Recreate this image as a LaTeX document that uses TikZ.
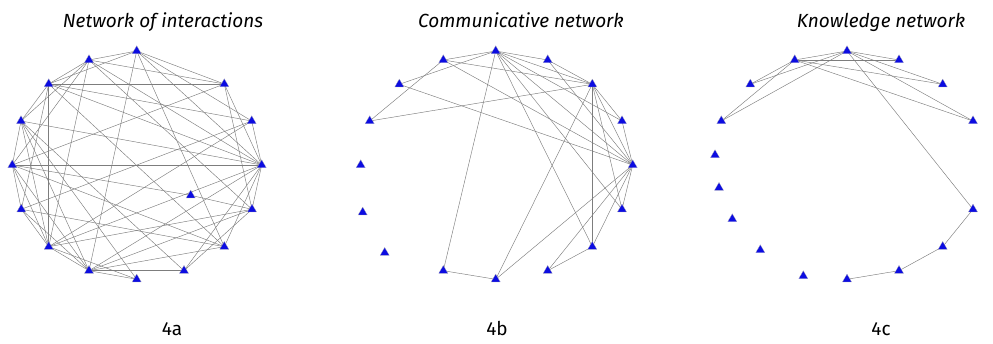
\documentclass[tikz,border=0pt]{standalone}
\usepackage{fontspec}
\setmainfont{Fira Sans}
\usetikzlibrary{shapes.geometric}
\pgfdeclarelayer{bg}
\pgfsetlayers{bg,main}
\definecolor{triblue}{RGB}{12,12,225}
\definecolor{edgegray}{RGB}{125,125,125}
\tikzset{
  tri/.style={regular polygon, regular polygon sides=3, minimum size=10.5pt, inner sep=0pt, fill=triblue, draw=gray!60, line width=0.2pt},
  link/.style={draw=edgegray, line width=0.45pt},
  ttl/.style={font=\fontsize{19}{21}\selectfont\itshape, anchor=base, inner sep=0pt},
  sublabel/.style={font=\fontsize{19}{21}\selectfont, anchor=base, inner sep=0pt}
}
\begin{document}
\begin{tikzpicture}[x=1pt,y=-1pt]
\useasboundingbox (0,0) rectangle (993,344);
% titles and labels
\node[ttl] (t1) at (163,28) {Network of interactions};
\node[ttl] (t2) at (521,28) {Communicative network};
\node[ttl] (t3) at (881,28) {Knowledge network};
\node[sublabel] (l1) at (172,336) {4a};
\node[sublabel] (l2) at (497,336) {4b};
\node[sublabel] (l3) at (881,336) {4c};
% network a nodes
\foreach \n/\x/\y in {a90/136.7/51, a112/89/60, a135/48.7/84, a157/21/121, a180/12.3/165,
  a202/21.3/209.3, a225/48.7/246.7, a247/89/270.7, a270/136.7/279.3, a292/184/270.7,
  a315/224.3/246.7, a337/252/209.3, a0/261.7/165, a22/251.7/121, a45/224.3/84, ain/190.7/195.3}
  \node[tri] (\n) at (\x,\y) {};
% network b nodes
\foreach \n/\x/\y in {b90/495.7/51, b112/443.3/60, b67/547.7/60, b135/399.3/84.3, b45/592.3/84.3,
  b157/369.7/121, b22/622/121, b180/360.7/165, b0/632.7/165, b202/362.7/212.3, b337/622/209.3,
  b225/384.7/252.7, b315/592.3/246.7, b247/443.3/270.7, b292/547.7/270.7, b270/495.7/279.3}
  \node[tri] (\n) at (\x,\y) {};
% network c nodes
\foreach \n/\x/\y in {c90/847/51, c112/794.7/60, c67/899/60, c135/750.3/84.3, c45/942.7/84.3,
  c157/721.3/121, c22/973/121, c180/715/155, c202/719/187.7, c225/732.3/219, c337/973/209.3,
  c247/760.3/250, c315/942.7/246.7, c260/803.3/276, c292/899/270.7, c270/847/279.3}
  \node[tri] (\n) at (\x,\y) {};
\begin{pgfonlayer}{bg}
% network a edges
\foreach \p/\q in {a90/a112, a90/a135, a90/a45, a90/a22, a90/a0, a90/a315, a90/a247,
  a112/a135, a112/a157, a112/a180, a112/a45, a112/a0, a112/a337, a112/a225,
  a135/a45, a135/a22, a135/a0, a135/a315, a135/a225, a135/a157, a135/a202,
  a157/a180, a157/a0, a157/a225, a157/a270, a157/a247, a157/a292,
  a180/a0, a180/ain, a180/a202, a180/a225, a180/a247, a180/a315, a180/a45,
  a202/a225, a202/a247, a202/a315, a202/a22,
  a225/a247, a225/a270, a225/a0, a225/a337, a225/a22,
  a247/a270, a247/a292, a247/a337, a247/a0, a247/a315,
  a292/a337, a292/a0, a315/a0, a337/a0, a22/a0, a45/a337, a45/a0, ain/a337}
  \draw[link] (\p.center) -- (\q.center);
% network b edges
\foreach \p/\q in {b90/b112, b90/b67, b90/b45, b90/b22, b90/b0, b90/b337, b90/b315, b90/b247, b90/b135,
  b112/b45, b112/b0, b112/b157, b135/b0, b157/b45, b67/b45, b67/b0,
  b45/b22, b45/b0, b45/b337, b45/b315, b45/b270,
  b22/b0, b0/b337, b0/b315, b0/b292, b0/b270, b315/b292, b247/b270}
  \draw[link] (\p.center) -- (\q.center);
% network c edges
\foreach \p/\q in {c90/c112, c112/c67, c90/c67, c90/c45, c90/c22, c112/c45, c112/c22,
  c135/c90, c135/c112, c157/c112, c157/c90, c90/c337, c337/c315, c315/c292, c292/c270}
  \draw[link] (\p.center) -- (\q.center);
\end{pgfonlayer}
\end{tikzpicture}
\end{document}
